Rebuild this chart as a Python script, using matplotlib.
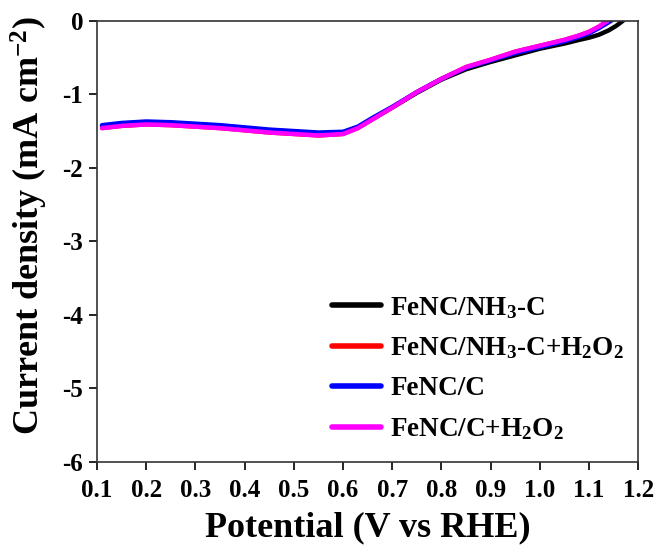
import matplotlib
matplotlib.use("Agg")
import matplotlib.pyplot as plt

plt.rcParams["font.family"] = "Liberation Serif"
plt.rcParams["font.weight"] = "bold"
plt.rcParams["mathtext.fontset"] = "custom"
plt.rcParams["mathtext.rm"] = "Liberation Serif:bold"
plt.rcParams["mathtext.default"] = "rm"
plt.rcParams["axes.unicode_minus"] = False

# potential (V vs RHE)
v_low = [0.11, 0.15, 0.2, 0.25, 0.3, 0.35, 0.4, 0.45, 0.5, 0.55, 0.6, 0.63,
         0.66, 0.7, 0.75, 0.8, 0.85, 0.9, 0.95, 1.0, 1.05, 1.08, 1.1]

# current density (mA cm-2)
j_nh3c = [-1.43, -1.40, -1.38, -1.39, -1.41, -1.43, -1.46, -1.49, -1.51, -1.53, -1.52, -1.45,
          -1.33, -1.18, -0.98, -0.80, -0.66, -0.56, -0.47, -0.38, -0.31, -0.26, -0.23]
j_nh3c_h2o2 = [-1.46, -1.43, -1.41, -1.42, -1.44, -1.46, -1.49, -1.52, -1.54, -1.56, -1.54, -1.46,
               -1.34, -1.18, -0.97, -0.79, -0.63, -0.53, -0.42, -0.34, -0.26, -0.20, -0.15]
j_c = [-1.42, -1.39, -1.37, -1.38, -1.40, -1.42, -1.45, -1.48, -1.50, -1.52, -1.51, -1.44,
       -1.32, -1.17, -0.97, -0.79, -0.64, -0.54, -0.44, -0.36, -0.28, -0.22, -0.17]
j_c_h2o2 = [-1.46, -1.43, -1.41, -1.42, -1.44, -1.46, -1.49, -1.52, -1.54, -1.56, -1.54, -1.46,
            -1.34, -1.18, -0.97, -0.79, -0.63, -0.53, -0.42, -0.34, -0.26, -0.20, -0.15]

# onset tails up to 0 mA cm-2
v_tail_nh3c = [1.12, 1.14, 1.155, 1.169]
j_tail_nh3c = [-0.19, -0.13, -0.07, 0.0]
v_tail_c = [1.12, 1.145]
j_tail_c = [-0.10, 0.0]
v_tail_ch = [1.12, 1.138]
j_tail_ch = [-0.08, 0.0]

labels = [r"FeNC/NH$_3$-C", r"FeNC/NH$_3$-C+H$_2$O$_2$", "FeNC/C", r"FeNC/C+H$_2$O$_2$"]
colors = ["black", "red", "blue", "magenta"]

series = [
    (v_low + v_tail_nh3c, j_nh3c + j_tail_nh3c),
    (v_low + v_tail_ch, j_nh3c_h2o2 + j_tail_ch),
    (v_low + v_tail_c, j_c + j_tail_c),
    (v_low + v_tail_ch, j_c_h2o2 + j_tail_ch),
]

fig = plt.figure(figsize=(6.56, 5.46), dpi=100)
ax = fig.add_axes([0.148, 0.154, 0.825, 0.808])

for (v, j), c, lab in zip(series, colors, labels):
    ax.plot(v, j, color=c, lw=3.2, label=lab, solid_capstyle="round")

ax.set_xlim(0.1, 1.2)
ax.set_ylim(-6, 0)
ax.set_xticks([0.1, 0.2, 0.3, 0.4, 0.5, 0.6, 0.7, 0.8, 0.9, 1.0, 1.1, 1.2])
ax.set_xticklabels(["0.1", "0.2", "0.3", "0.4", "0.5", "0.6", "0.7", "0.8", "0.9", "1.0", "1.1", "1.2"])
ax.set_yticks([-6, -5, -4, -3, -2, -1, 0])
ax.tick_params(direction="out", length=6, width=1.2, labelsize=18)
ax.tick_params(axis="x", pad=6)
ax.tick_params(axis="y", pad=4)
for sp in ax.spines.values():
    sp.set_linewidth(1.2)
    sp.set_color("#333333")

ax.set_xlabel("Potential (V vs RHE)", fontsize=26, fontweight="bold", labelpad=7)
ax.set_ylabel(r"Current density (mA cm$^{-2}$)", fontsize=26, fontweight="bold")
ax.yaxis.set_label_coords(-0.087, 0.535)

leg = ax.legend(loc="lower right", frameon=False, fontsize=19.5, handlelength=1.8,
                handletextpad=0.35, labelspacing=0.55, borderaxespad=0.0,
                bbox_to_anchor=(0.994, 0.02))
for line in leg.get_lines():
    line.set_linewidth(4)

fig.savefig("out.png", dpi=100)
